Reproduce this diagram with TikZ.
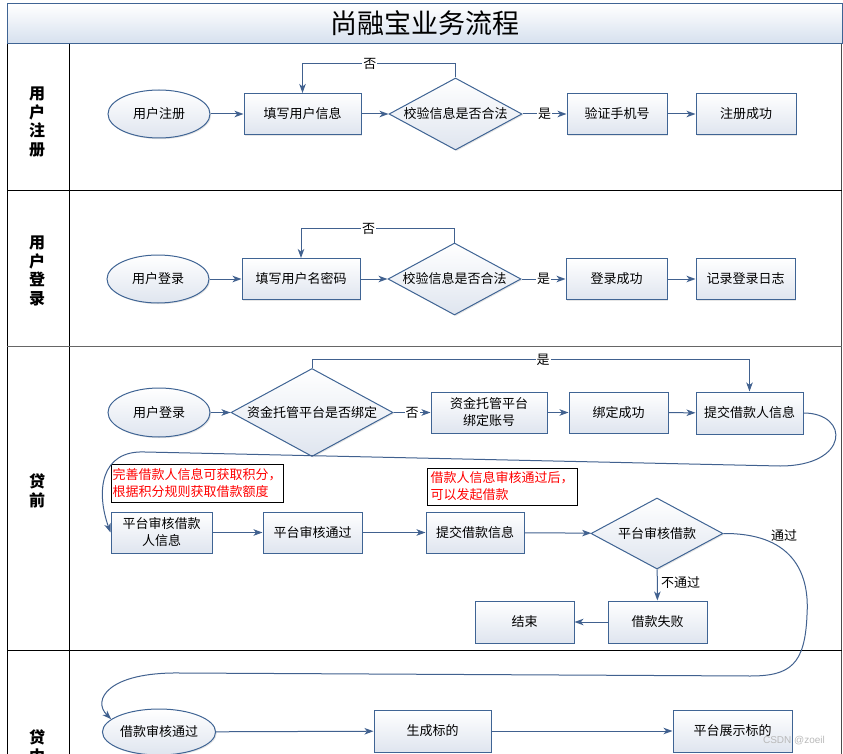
\documentclass[tikz,border=0pt]{standalone}
\usepackage{fontspec}
\setmainfont{Noto Sans CJK SC}
\newfontfamily\wmfont{Liberation Sans}
\usetikzlibrary{shapes.geometric,arrows.meta,shadows}
\definecolor{bblue}{HTML}{3F6494}
\definecolor{lblue}{HTML}{41618F}
\definecolor{bfill}{HTML}{DFE5EF}
\definecolor{tfill}{HTML}{D6E0EE}
\tikzset{
 base/.style={draw=bblue, line width=1pt, top color=white, bottom color=bfill, font=\fontsize{13}{17}\selectfont, inner sep=1pt, align=center, drop shadow={shadow xshift=1.2pt,shadow yshift=-1.2pt,opacity=0.2}},
 box/.style={base, rectangle, minimum height=41pt},
 oval/.style={base, ellipse, minimum width=102pt, minimum height=48pt},
 dia/.style={base, diamond, aspect=1.85, minimum width=133pt, minimum height=72pt},
 arr/.style={draw=lblue, line width=1pt, -{Stealth[length=9pt,width=6.5pt,inset=2.5pt]}},
 lbl/.style={fill=white, inner sep=1pt, font=\fontsize{13}{15}\selectfont},
 note/.style={draw=black, line width=0.8pt, fill=white, text=red, align=left, inner sep=0pt, font=\fontsize{13}{17}\selectfont},
 lane/.style={font=\bfseries\fontsize{16}{18.5}\selectfont, align=center},
 sep/.style={line width=1pt, draw=black},
}
\begin{document}
\begin{tikzpicture}[x=1pt,y=-1pt]
\useasboundingbox (0,0) rectangle (843,754);
\clip (0,0) rectangle (843,754);
% frame
\draw[draw=bblue, line width=1pt, top color=white, bottom color=tfill] (7,4) rectangle (842,44);
\node[font=\fontsize{27}{30}\selectfont] (title) at (425,23) {尚融宝业务流程};
\draw[sep] (7,44) -- (7,760);
\draw[sep, draw=black!70] (841,44) -- (841,760);
\draw[sep] (69,44) -- (69,760);
\draw[sep] (7,191) -- (842,191);
\draw[sep, draw=black!60] (7,346) -- (842,346);
\draw[sep] (7,650) -- (842,650);
% lane labels
\node[lane] (l1) at (37,122) {用\\户\\注\\册};
\node[lane] (l2) at (37,271) {用\\户\\登\\录};
\node[lane] (l3) at (37,491) {贷\\前};
\node[lane] (l4) at (37,747) {贷\\中};
% lane 1
\node[oval] (u1) at (159,114) {用户注册};
\node[box, minimum width=117pt] (b11) at (302.5,114) {填写用户信息};
\node[dia] (d1) at (455.5,114) {校验信息是否合法};
\node[box, minimum width=100pt] (b12) at (617,114) {验证手机号};
\node[box, minimum width=100pt] (b13) at (746,114) {注册成功};
\draw[arr] (u1) -- (b11);
\draw[arr] (b11) -- (d1);
\draw[arr] (d1) -- node[lbl]{是} (b12);
\draw[arr] (b12) -- (b13);
\draw[arr] (d1.north) -- ++(0,-14) -| node[lbl,pos=0.28]{否} (b11.north);
% lane 2
\node[oval] (u2) at (158,279) {用户登录};
\node[box, minimum width=118pt] (b21) at (301,279) {填写用户名密码};
\node[dia] (d2) at (454.5,279) {校验信息是否合法};
\node[box, minimum width=101pt] (b22) at (616.5,279) {登录成功};
\node[box, minimum width=99pt] (b23) at (745.5,279) {记录登录日志};
\draw[arr] (u2) -- (b21);
\draw[arr] (b21) -- (d2);
\draw[arr] (d2) -- node[lbl]{是} (b22);
\draw[arr] (b22) -- (b23);
\draw[arr] (d2.north) -- ++(0,-14) -| node[lbl,pos=0.28]{否} (b21.north);
% lane 3
\node[oval, minimum height=49pt] (u3) at (159,412.5) {用户登录};
\node[dia, minimum width=162pt, minimum height=88pt] (d3) at (312,412.5) {资金托管平台是否绑定};
\node[box, minimum width=116pt] (b31) at (489,412.5) {资金托管平台\\绑定账号};
\node[box, minimum width=99pt] (b32) at (618.5,412.5) {绑定成功};
\node[box, minimum width=107pt, minimum height=42pt] (b33) at (749.5,413) {提交借款人信息};
\draw[arr] (u3) -- (d3);
\draw[arr] (d3) -- node[lbl]{否} (b31);
\draw[arr] (b31) -- (b32);
\draw[arr] (b32) -- (b33);
\draw[arr] (d3.north) -- ++(0,-8.5) -| node[lbl,pos=0.264]{是} (b33.north);
\node[note, minimum width=172pt, minimum height=38pt] (n1) at (197,483) {完善借款人信息可获取积分，\\根据积分规则获取借款额度};
\node[note, minimum width=150pt, minimum height=37pt] (n2) at (502,486.5) {借款人信息审核通过后，\\可以发起借款};
\node[box, minimum width=101pt] (b34) at (161.5,532.5) {平台审核借款\\人信息};
\node[box, minimum width=99pt] (b35) at (312.5,532.5) {平台审核通过};
\node[box, minimum width=98pt] (b36) at (475,532.5) {提交借款信息};
\node[dia, minimum width=132pt, minimum height=71pt] (d4) at (657,533.5) {平台审核借款};
\node[box, minimum width=99pt, minimum height=42pt] (b37) at (657.5,622) {借款失败};
\node[box, minimum width=99pt, minimum height=42pt] (b38) at (524.5,622) {结束};
\draw[arr] (b33.east) .. controls (850,413) and (850,466) .. (780,466) -- (145,452) .. controls (100,450) and (96,492) .. (b34.west);
\draw[arr] (b34) -- (b35);
\draw[arr] (b35) -- (b36);
\draw[arr] (b36) -- (d4);
\draw[arr] (d4) -- node[anchor=west, pos=0.42, font=\fontsize{13}{15}\selectfont]{不通过} (b37);
\draw[arr] (b37) -- (b38);
\node[font=\fontsize{13}{15}\selectfont] (tg) at (784,536) {通过};
% lane 4
\node[oval, minimum height=46pt] (u4) at (159,732) {借款审核通过};
\node[box, minimum width=117pt, minimum height=42pt] (b41) at (432.5,731) {生成标的};
\node[box, minimum width=119pt, minimum height=42pt] (b42) at (732.5,731) {平台展示标的};
\draw[arr] (d4.east) .. controls (790,533) and (810,570) .. (807,615) .. controls (805,665) and (790,676) .. (750,676) -- (180,673) .. controls (108,672) and (92,700) .. (u4.165);
\draw[arr] (u4) -- (b41);
\draw[arr] (b41) -- (b42);
\node[font=\wmfont\fontsize{10}{12}\selectfont, text=gray!55] (wm) at (794,741) {CSDN @zoeil};
\end{tikzpicture}
\end{document}
